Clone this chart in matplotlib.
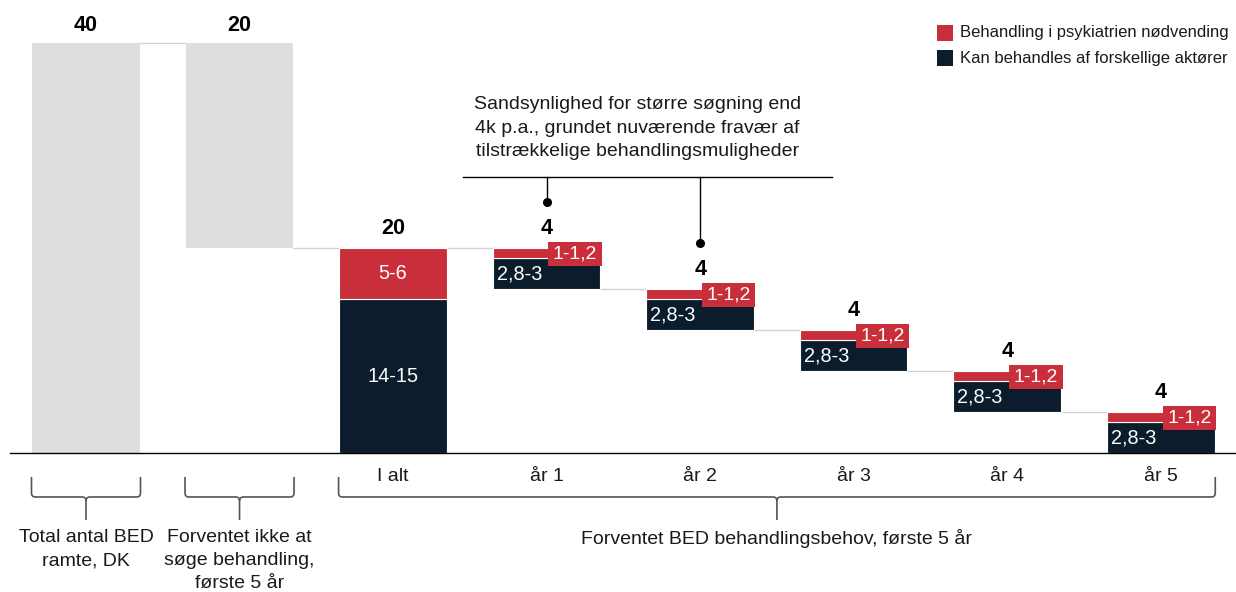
import matplotlib
matplotlib.use("Agg")
import matplotlib.pyplot as plt
from matplotlib.patches import Rectangle
from matplotlib.path import Path
from matplotlib.patches import PathPatch

plt.rcParams['font.family'] = ['Liberation Sans', 'DejaVu Sans']

# ---------------- data ----------------
categories = ["", "", "I alt", "år 1", "år 2", "år 3", "år 4", "år 5"]
gray_bottom = [0, 20]
gray_height = [40, 20]
gray_labels = ["40", "20"]
alt_dark = 15
alt_red = 5
alt_total_label = "20"
alt_dark_label = "14-15"
alt_red_label = "5-6"
year_dark = [3, 3, 3, 3, 3]
year_red = [1, 1, 1, 1, 1]
year_total_labels = ["4", "4", "4", "4", "4"]
year_dark_label = "2,8-3"
year_red_label = "1-1,2"
brace_groups = [(0, 0), (1, 1), (2, 7)]
brace_labels = ["Total antal BED\nramte, DK",
                "Forventet ikke at\nsøge behandling,\nførste 5 år",
                "Forventet BED behandlingsbehov, første 5 år"]
annotation_text = ("Sandsynlighed for større søgning end\n"
                   "4k p.a., grundet nuværende fravær af\n"
                   "tilstrækkelige behandlingsmuligheder")
legend_labels = ["Behandling i psykiatrien nødvending",
                 "Kan behandles af forskellige aktører"]

GRAY = "#DEDEDE"
RED = "#C92F3B"
DARK = "#0B1D2C"
CONN = "#D3D3D3"
BRACE = "#555555"
TXT = "#1a1a1a"

W, H = 1236, 592
fig = plt.figure(figsize=(W / 100, H / 100), dpi=100)
ax = fig.add_axes([10 / W, 139 / H, 1226 / W, 453 / H])
ax.set_xlim(-0.495, 7.49)
ax.set_ylim(0, 44.2)
for s in ["top", "right", "left"]:
    ax.spines[s].set_visible(False)
ax.spines["bottom"].set_color("black")
ax.spines["bottom"].set_linewidth(1.0)
ax.set_yticks([])

x = list(range(len(categories)))
bw = 0.70
ppu = 410 / 40.0  # pixels per y unit

# gray bars
ax.bar(x[:2], gray_height, bottom=gray_bottom, width=bw, color=GRAY, zorder=2)
for i in range(2):
    ax.text(x[i], gray_bottom[i] + gray_height[i] + 1.7, gray_labels[i],
            ha="center", va="center", fontsize=15.5, fontweight="bold")

# I alt
ax.bar(x[2], alt_dark, width=bw, color=DARK, edgecolor="white", linewidth=0.8, zorder=2)
ax.bar(x[2], alt_red, bottom=alt_dark, width=bw, color=RED, edgecolor="white", linewidth=0.8, zorder=2)
alt_top = alt_dark + alt_red
ax.text(x[2], alt_top + 1.95, alt_total_label, ha="center", va="center",
        fontsize=15.5, fontweight="bold")
ax.text(x[2], alt_dark + alt_red / 2, alt_red_label, ha="center", va="center",
        color="white", fontsize=14.3)
ax.text(x[2], alt_dark / 2, alt_dark_label, ha="center", va="center",
        color="white", fontsize=14.3)

# years
top = alt_top
tops = []
for k in range(5):
    xi = x[3 + k]
    tot = year_dark[k] + year_red[k]
    bottom = top - tot
    ax.bar(xi, year_dark[k], bottom=bottom, width=bw, color=DARK,
           edgecolor="white", linewidth=0.8, zorder=2)
    ax.bar(xi, year_red[k], bottom=bottom + year_dark[k], width=bw, color=RED,
           edgecolor="white", linewidth=0.8, zorder=2)
    ax.text(xi, top + 1.95, year_total_labels[k], ha="center", va="center",
            fontsize=15.5, fontweight="bold")
    ax.text(xi - bw / 2 + 0.025, bottom + year_dark[k] / 2, year_dark_label,
            ha="left", va="center", color="white", fontsize=14.3, zorder=4)
    # red label box
    bx0 = xi + 0.012
    bx1 = xi + bw / 2 + 0.01
    by0 = top - 1.73
    by1 = top + 0.61
    ax.add_patch(Rectangle((bx0, by0), bx1 - bx0, by1 - by0, facecolor=RED,
                           edgecolor="none", zorder=3))
    ax.text((bx0 + bx1) / 2, (by0 + by1) / 2 - 0.05, year_red_label,
            ha="center", va="center", color="white", fontsize=14, zorder=4)
    tops.append((top, bottom))
    top = bottom

# connectors
levels = [gray_bottom[0] + gray_height[0], gray_bottom[1], alt_top] + [b for (_, b) in tops[:-1]]
for i, lev in enumerate(levels):
    ax.plot([x[i] + bw / 2, x[i + 1] - bw / 2], [lev, lev], color=CONN, lw=1.0, zorder=1)

# tick labels
ax.set_xticks(x)
ax.set_xticklabels(categories, fontsize=14, color=TXT)
ax.tick_params(axis="x", length=0, pad=11)


def py(p):
    return (453 - p) / ppu


def draw_brace(x0, x1):
    yt, yh, yb = py(477), py(497), py(520)
    xm = (x0 + x1) / 2
    r = 0.025
    ry = 4 / ppu
    verts = [(x0, yt), (x0, yh + ry), (x0, yh), (x0 + r, yh),
             (xm - r, yh), (xm, yh), (xm, yh - ry), (xm, yb)]
    codes = [Path.MOVETO, Path.LINETO, Path.CURVE3, Path.CURVE3,
             Path.LINETO, Path.CURVE3, Path.CURVE3, Path.LINETO]
    verts2 = [(x1, yt), (x1, yh + ry), (x1, yh), (x1 - r, yh),
              (xm + r, yh), (xm, yh), (xm, yh - ry)]
    codes2 = [Path.MOVETO, Path.LINETO, Path.CURVE3, Path.CURVE3,
              Path.LINETO, Path.CURVE3, Path.CURVE3]
    for v, c in [(verts, codes), (verts2, codes2)]:
        ax.add_patch(PathPatch(Path(v, c), facecolor="none", edgecolor=BRACE,
                               lw=1.2, clip_on=False))
    return xm


for (a, b), lab in zip(brace_groups, brace_labels):
    xm = draw_brace(x[a] - bw / 2 - 0.005, x[b] + bw / 2 + 0.005)
    ax.text(xm, py(529), lab, ha="center", va="top", fontsize=14,
            linespacing=1.48, clip_on=False, color=TXT)

# annotation
ax.text(3.59, py(128), annotation_text, ha="center", va="center",
        fontsize=14, linespacing=1.52, color=TXT)
yl = py(177)
ax.plot([2.456, 4.86], [yl, yl], color="black", lw=1.0, clip_on=False)
for xi, (t, _) in zip([x[3], x[4]], [tops[0], tops[1]]):
    yd = t + 4.45
    ax.plot([xi, xi], [yl, yd], color="black", lw=1.0)
    ax.plot([xi], [yd], marker="o", color="black", markersize=5.5)

# legend
for j, (lab, col) in enumerate(zip(legend_labels, [RED, DARK])):
    y0 = 25 + 25 * j
    fig.patches.append(Rectangle((937 / W, 1 - (y0 + 16) / H), 16 / W, 16 / H,
                                 transform=fig.transFigure, facecolor=col,
                                 edgecolor="none"))
    fig.text(960 / W, 1 - (y0 + 8) / H, lab, ha="left", va="center",
             fontsize=12, color=TXT)

fig.savefig("out.png", dpi=100)
